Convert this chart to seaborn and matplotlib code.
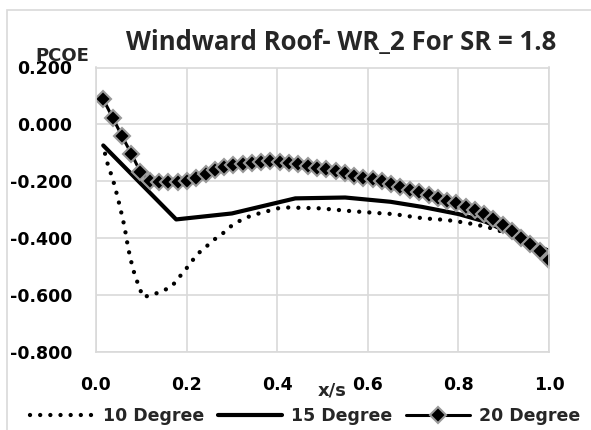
import matplotlib
matplotlib.use("Agg")
import matplotlib.pyplot as plt
from matplotlib.patches import Rectangle
import seaborn as sns

# Pressure coefficient along the windward roof (x/s) for three wind angles
x_10 = [0.020, 0.027, 0.035, 0.042, 0.053, 0.063, 0.071, 0.081, 0.088, 0.097,
        0.104, 0.124, 0.145, 0.167, 0.182, 0.196, 0.211, 0.226, 0.243, 0.260,
        0.280, 0.296, 0.316, 0.336, 0.355, 0.402, 0.425, 0.494, 0.564, 0.634,
        0.656, 0.722, 0.774, 0.818, 0.862, 0.884, 0.920, 0.960, 1.000]
pcoe_10 = [-0.103, -0.147, -0.182, -0.220, -0.290, -0.360, -0.435, -0.505, -0.540, -0.579,
           -0.607, -0.599, -0.587, -0.570, -0.540, -0.514, -0.482, -0.453, -0.430, -0.406,
           -0.383, -0.360, -0.340, -0.325, -0.315, -0.295, -0.292, -0.295, -0.305, -0.313,
           -0.315, -0.330, -0.336, -0.346, -0.360, -0.371, -0.388, -0.428, -0.470]

x_15 = [0.016, 0.177, 0.300, 0.440, 0.550, 0.650, 0.720, 0.800, 0.860, 1.000]
pcoe_15 = [-0.074, -0.334, -0.313, -0.260, -0.257, -0.272, -0.290, -0.315, -0.342, -0.445]

x_20 = [0.016, 0.037, 0.057, 0.078, 0.098, 0.119, 0.139, 0.160, 0.180, 0.201,
        0.221, 0.242, 0.262, 0.283, 0.303, 0.324, 0.344, 0.365, 0.385, 0.406,
        0.426, 0.447, 0.467, 0.488, 0.508, 0.529, 0.549, 0.570, 0.590, 0.611,
        0.631, 0.652, 0.672, 0.693, 0.713, 0.734, 0.754, 0.775, 0.795, 0.816,
        0.836, 0.857, 0.877, 0.898, 0.918, 0.939, 0.959, 0.980, 1.000]
pcoe_20 = [0.088, 0.023, -0.040, -0.103, -0.167, -0.200, -0.202, -0.202, -0.204, -0.198,
           -0.187, -0.175, -0.161, -0.150, -0.144, -0.138, -0.136, -0.132, -0.130, -0.131,
           -0.135, -0.140, -0.145, -0.152, -0.158, -0.165, -0.172, -0.180, -0.187, -0.193,
           -0.200, -0.210, -0.220, -0.229, -0.239, -0.248, -0.258, -0.268, -0.278, -0.290,
           -0.302, -0.316, -0.334, -0.355, -0.376, -0.400, -0.422, -0.444, -0.478]

x_ticks = [0.0, 0.2, 0.4, 0.6, 0.8, 1.0]
x_tick_labels = ["0.0", "0.2", "0.4", "0.6", "0.8", "1.0"]
y_ticks = [0.2, 0.0, -0.2, -0.4, -0.6, -0.8]
y_tick_labels = ["0.200", "0.000", "-0.200", "-0.400", "-0.600", "-0.800"]

series_labels = ["10 Degree", "15 Degree", "20 Degree"]
title_text = "Windward Roof- WR_2 For SR = 1.8"

sns.set_style("white")
plt.rcParams["font.family"] = ["DejaVu Sans"]
plt.rcParams["font.weight"] = "bold"
plt.rcParams["axes.unicode_minus"] = False

LABEL_SIZE = 12.5
W, H = 591, 430
fig = plt.figure(figsize=(W / 100, H / 100), dpi=100)
ax = fig.add_axes([96 / W, 1 - 352 / H, (549 - 96) / W, (352 - 67.5) / H])

grid_c = "#d9d9d9"
sns.lineplot(x=x_10, y=pcoe_10, ax=ax, color="black", lw=3.1,
             linestyle=(0, (0.01, 2.35)), dash_capstyle="round",
             label=series_labels[0], estimator=None, sort=False)
sns.lineplot(x=x_15, y=pcoe_15, ax=ax, color="black", lw=3.0,
             label=series_labels[1], estimator=None, sort=False)
sns.lineplot(x=x_20, y=pcoe_20, ax=ax, color="black", lw=2.2,
             marker="D", markersize=8.0, markerfacecolor="black",
             markeredgecolor="#999999", markeredgewidth=1.5,
             label=series_labels[2], estimator=None, sort=False)

ax.set_xlim(0, 1.0)
ax.set_ylim(-0.8, 0.2)
ax.set_xticks(x_ticks)
ax.set_xticklabels(x_tick_labels)
ax.set_yticks(y_ticks)
ax.set_yticklabels(y_tick_labels)
ax.tick_params(axis="both", length=0, labelsize=LABEL_SIZE, colors="black")
ax.tick_params(axis="y", pad=17)
ax.tick_params(axis="x", pad=17)
for lab in ax.get_xticklabels() + ax.get_yticklabels():
    lab.set_fontweight("bold")
ax.grid(True, color=grid_c, lw=1.2)
ax.set_axisbelow(True)
for sp in ax.spines.values():
    sp.set_color(grid_c)
    sp.set_linewidth(1.2)
ax.set_xlabel("")
ax.set_ylabel("")
ax.get_legend().remove()

# Axis captions and title
fig.text(341 / W, 1 - 43 / H, title_text, ha="center", va="center",
         fontsize=18.5, fontweight="bold", family=["Open Sans", "DejaVu Sans"])
fig.text(62 / W, 1 - 56 / H, "PCOE", ha="center", va="center",
         fontsize=13, fontweight="bold")
fig.text(332 / W, 1 - 390.5 / H, "x/s", ha="center", va="center",
         fontsize=13, fontweight="bold")

handles, labels = ax.get_legend_handles_labels()
fig.legend(handles, labels, loc="center", bbox_to_anchor=(305 / W, 1 - 416 / H),
           ncol=3, frameon=False, prop={"size": LABEL_SIZE, "weight": "bold"},
           handlelength=3.7, handletextpad=0.5, columnspacing=0.8,
           borderpad=0, borderaxespad=0)

# Chart area border
fig.patches.append(Rectangle((7 / W, -0.1), 1.2, 1 - 10 / H + 0.1,
                             transform=fig.transFigure, fill=False,
                             edgecolor=grid_c, lw=1.2))

fig.savefig("out.png", dpi=100)
